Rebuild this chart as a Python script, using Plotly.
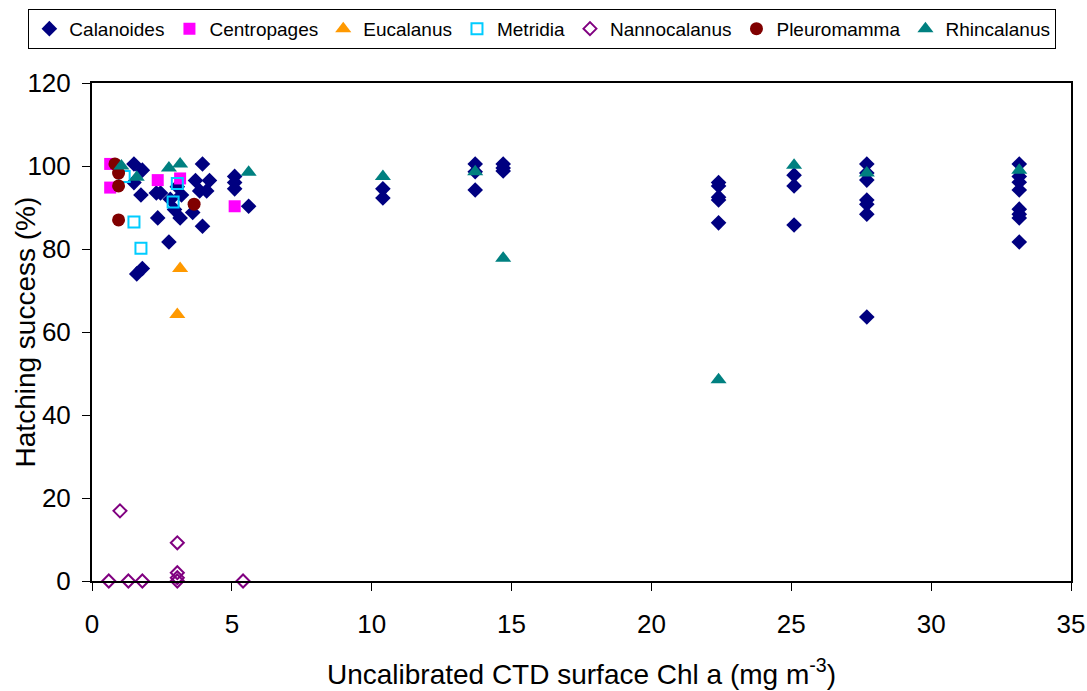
import plotly.graph_objects as go

# ---- data ----
cal_x = [1.5, 1.8, 1.5, 1.75, 2.3, 2.45, 2.35, 2.8, 2.95, 3.15, 3.05, 3.2, 3.7, 3.95, 4.2, 3.85, 4.1,
         3.6, 3.95, 2.75, 1.6, 1.8, 5.1, 5.1, 5.1, 5.6,
         10.4, 10.4,
         13.7, 13.7, 13.7,
         14.7, 14.7, 14.7,
         22.4, 22.4, 22.4, 22.4, 22.4,
         25.1, 25.1, 25.1,
         27.7, 27.7, 27.7, 27.7, 27.7, 27.7, 27.7,
         33.15, 33.15, 33.15, 33.15, 33.15, 33.15, 33.15, 33.15]
cal_y = [100.5, 99, 96, 93, 93.5, 93.5, 87.5, 92, 89.5, 87.5, 95, 93, 96.5, 100.5, 96.5, 94, 94,
         88.8, 85.5, 81.7, 74, 75.3, 97.5, 96, 94.5, 90.3,
         94.5, 92.3,
         100.5, 98.6, 94.2,
         100.5, 99.5, 98.8,
         96, 95.2, 92.5, 91.8, 86.3,
         97.8, 95.2, 85.8,
         100.5, 98.3, 96.6, 91.8, 90.8, 88.4, 63.6,
         100.5, 97.5, 96.1, 94.2, 89.6, 88.4, 87.5, 81.7]

cen_x = [0.65, 0.65, 2.35, 3.15, 5.1]
cen_y = [100.5, 94.8, 96.6, 97, 90.3]

euc_x = [3.15, 3.05]
euc_y = [75.3, 64.2]

met_x = [1.15, 3.05, 2.9, 1.5, 1.75]
met_y = [97.5, 95.8, 91.3, 86.5, 80.2]

nan_x = [1.0, 0.6, 1.3, 1.8, 3.05, 3.05, 3.05, 3.05, 5.4]
nan_y = [16.9, 0, 0, 0, 9.2, 2.0, 0.8, 0, 0]

ple_x = [0.82, 0.95, 0.95, 0.95, 3.65]
ple_y = [100.5, 98.3, 95.2, 87, 90.8]

rhi_x = [1.05, 1.6, 2.75, 3.15, 5.6, 10.4, 13.7, 14.7, 22.4, 25.1, 27.7, 33.15]
rhi_y = [100, 97.3, 99.5, 100.5, 98.5, 97.5, 98.6, 77.8, 48.5, 100.2, 98.3, 99]

series = [
    ("Calanoides", cal_x, cal_y, dict(symbol="diamond", color="#000080", size=12)),
    ("Centropages", cen_x, cen_y, dict(symbol="square", color="#FF00FF", size=12)),
    ("Eucalanus", euc_x, euc_y, dict(symbol="triangle-up", color="#FF9900", size=14)),
    ("Metridia", met_x, met_y, dict(symbol="square-open", color="#00CCFF", size=11,
                                    line=dict(width=2, color="#00CCFF"))),
    ("Nannocalanus", nan_x, nan_y, dict(symbol="diamond-open", color="#800080", size=10,
                                        line=dict(width=2, color="#800080"))),
    ("Pleuromamma", ple_x, ple_y, dict(symbol="circle", color="#800000", size=13)),
    ("Rhincalanus", rhi_x, rhi_y, dict(symbol="triangle-up", color="#008080", size=14)),
]

fig = go.Figure()
for name, xs, ys, mk in series:
    fig.add_trace(go.Scatter(x=xs, y=ys, mode="markers", name=name, marker=mk,
                             cliponaxis=False))

font_family = "Liberation Sans, Arial, sans-serif"
fig.update_layout(
    width=1087, height=691,
    margin=dict(l=92, r=16, t=83, b=110, autoexpand=False),
    paper_bgcolor="white", plot_bgcolor="white",
    font=dict(family=font_family, color="black"),
    showlegend=True,
    legend=dict(orientation="h", x=-0.065, xanchor="left", y=1.149, yanchor="top",
                bordercolor="black", borderwidth=1, font=dict(size=19),
                itemwidth=30, tracegroupgap=0),
    annotations=[dict(text="Hatching success (%)", textangle=-90, showarrow=False,
                      xref="paper", yref="paper", x=-0.068, y=0.5,
                      xanchor="center", yanchor="middle", font=dict(size=28))],
)
fig.update_xaxes(range=[0, 35], tickvals=[0, 5, 10, 15, 20, 25, 30, 35],
                 showgrid=False, zeroline=False, showline=True, linecolor="black",
                 linewidth=2, mirror=True, ticks="outside", ticklen=8, tickcolor="black",
                 tickfont=dict(size=26), ticklabelstandoff=11,
                 title=dict(text="Uncalibrated CTD surface Chl a (mg m<sup>-3</sup>)",
                            font=dict(size=28), standoff=26))
fig.update_yaxes(range=[0, 120], tickvals=[0, 20, 40, 60, 80, 100, 120],
                 showgrid=False, zeroline=False, showline=True, linecolor="black",
                 linewidth=2, mirror=True, ticks="outside", ticklen=8, tickcolor="black",
                 tickfont=dict(size=26), ticklabelstandoff=6)

fig.write_html("out.html")
